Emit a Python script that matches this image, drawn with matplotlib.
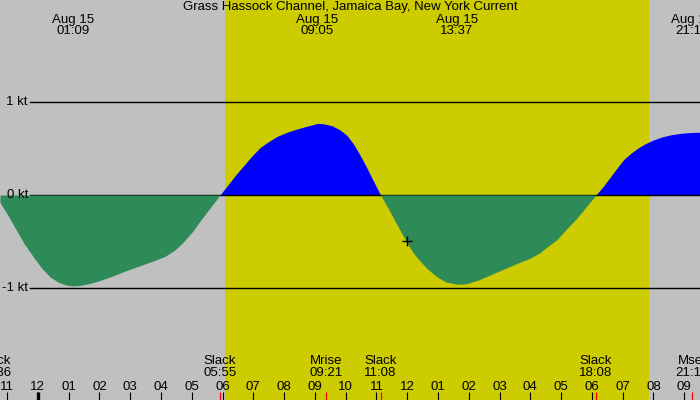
import matplotlib
matplotlib.use("Agg")
import matplotlib.pyplot as plt

plt.rcParams['font.family'] = ['Liberation Sans', 'DejaVu Sans']

# ---- data (hours since 00:00 Aug 15, speed in knots) ----
ebb1_t = [-1.231, -0.971, -0.712, -0.452, -0.159, 0.133, 0.393, 0.653, 0.913, 1.15, 1.368, 1.693,
          2.018, 2.440, 2.895, 3.317, 3.740, 4.129, 4.454, 4.714, 5.007, 5.267, 5.592, 5.917]
ebb1_v = [-0.08, -0.22, -0.37, -0.52, -0.66, -0.79, -0.88, -0.935, -0.968, -0.978, -0.972, -0.95,
          -0.92, -0.87, -0.81, -0.76, -0.71, -0.66, -0.59, -0.51, -0.40, -0.28, -0.14, 0.0]

flood1_t = [5.917, 6.176, 6.436, 6.696, 6.956, 7.216, 7.476, 7.768, 8.093, 8.418, 8.743, 9.083,
            9.295, 9.555, 9.815, 10.043, 10.270, 10.465, 10.660, 10.855, 11.133]
flood1_v = [0.0, 0.11, 0.22, 0.32, 0.42, 0.51, 0.57, 0.63, 0.675, 0.71, 0.74, 0.77,
            0.765, 0.745, 0.70, 0.64, 0.54, 0.43, 0.31, 0.18, 0.0]

ebb2_t = [11.133, 11.374, 11.602, 11.959, 12.186, 12.414, 12.674, 12.966, 13.259, 13.617, 13.909,
          14.299, 14.689, 15.111, 15.534, 15.988, 16.313, 16.573, 16.865, 17.157, 17.482, 17.807, 18.133]
ebb2_v = [0.0, -0.14, -0.28, -0.495, -0.62, -0.71, -0.80, -0.88, -0.935, -0.96, -0.955,
          -0.915, -0.86, -0.80, -0.74, -0.68, -0.62, -0.55, -0.48, -0.37, -0.26, -0.13, 0.0]

flood2_t = [18.133, 18.384, 18.612, 18.839, 19.042, 19.270, 19.497, 19.725, 19.985, 20.277,
            20.602, 20.927, 21.252, 21.511]
flood2_v = [0.0, 0.10, 0.20, 0.30, 0.385, 0.45, 0.505, 0.55, 0.59, 0.625,
            0.65, 0.665, 0.673, 0.675]

sunrise, sunset = 6.08, 19.86

peak_times = [1.15, 9.083, 13.617, 21.25]
peak_labels = ["01:09", "09:05", "13:37", "21:15"]
peak_date = "Aug 15"

event_times = [-1.4, 5.917, 9.35, 11.133, 18.133, 21.267]
event_names = ["Slack", "Slack", "Mrise", "Slack", "Slack", "Mset"]
event_labels = ["22:36", "05:55", "09:21", "11:08", "18:08", "21:16"]

hour_ticks = list(range(-1, 22))
hour_labels = ["%02d" % (((h % 12) or 12)) for h in hour_ticks]

kt_levels = [1, 0, -1]
kt_labels = ["1 kt", "0 kt", "-1 kt"]

cursor_t, cursor_v = 11.98, -0.495

title = "Grass Hassock Channel, Jamaica Bay, New York Current"

# ---- figure ----
W, H = 700, 400
fig = plt.figure(figsize=(7, 4), dpi=100)
ax = fig.add_axes([0, 0, 1, 1])
ax.set_facecolor('#c0c0c0')
ax.set_xlim(-1.231, 21.511)
ax.set_ylim(-2.204, 2.097)
for s in ax.spines.values():
    s.set_visible(False)

ax.axvspan(sunrise, sunset, color='#cccc00', lw=0, zorder=0)

green = '#2e8b57'
blue = '#0000ff'
ax.fill_between(flood1_t, flood1_v, 0, color=blue, lw=0, zorder=1)
ax.fill_between(flood2_t, flood2_v, 0, color=blue, lw=0, zorder=1)

for lvl, lab in zip(kt_levels, kt_labels):
    ax.axhline(lvl, xmin=30 / W, xmax=1, color='black', lw=1, zorder=2)
    ax.text(28 / W, lvl, lab, transform=ax.get_yaxis_transform(),
            ha='right', va='center', fontsize=9.5, color='black', zorder=4)

ax.fill_between(ebb1_t, ebb1_v, 0, color=green, lw=0, zorder=3)
ax.fill_between(ebb2_t, ebb2_v, 0, color=green, lw=0, zorder=3)

ax.plot([cursor_t], [cursor_v], marker='+', ms=7, mew=1, color='black', zorder=5)

# hour ticks
ax.set_xticks(hour_ticks)
ax.set_xticklabels(hour_labels)
ax.set_yticks([])
ax.tick_params(axis='x', direction='in', length=5.8, width=0.8, color='black',
               pad=-13.8, labelsize=9.5, labelcolor='black')

xt = ax.get_xaxis_transform()
# midnight thick tick
ax.vlines([0], 0, 8 / H, transform=xt, color='black', lw=2.4, zorder=6)
# event ticks
ax.vlines(event_times, 0, 8 / H, transform=xt, color='red', lw=0.9, zorder=6)

for t, n, lab in zip(event_times, event_names, event_labels):
    ax.text(t, 1 - 361.5 / H, n, transform=xt, ha='center', va='center', fontsize=9.5, zorder=6)
    ax.text(t, 1 - 373.5 / H, lab, transform=xt, ha='center', va='center', fontsize=9.5, zorder=6)

for t, lab in zip(peak_times, peak_labels):
    ax.text(t, 1 - 19.5 / H, peak_date, transform=xt, ha='center', va='center', fontsize=9.5, zorder=6)
    ax.text(t, 1 - 31 / H, lab, transform=xt, ha='center', va='center', fontsize=9.5, zorder=6)

ax.text(0.5, 1 - 7 / H, title, transform=ax.transAxes, ha='center', va='center',
        fontsize=9.5, zorder=6)

fig.savefig('out.png', dpi=100)
